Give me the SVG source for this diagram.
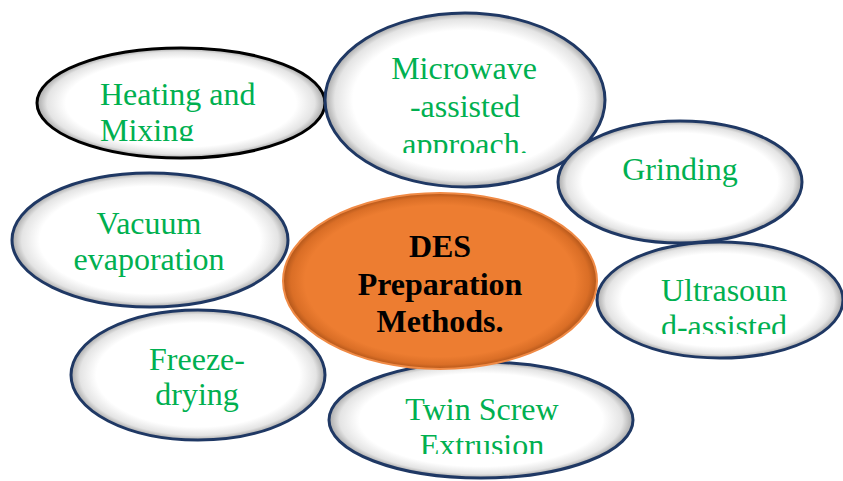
<svg xmlns="http://www.w3.org/2000/svg" width="843" height="481" viewBox="0 0 843 481">
<defs>
<radialGradient id="gw" cx="50%" cy="50%" r="50%">
<stop offset="0" stop-color="#ffffff"/>
<stop offset="0.8" stop-color="#ffffff"/>
<stop offset="0.93" stop-color="#e4e4e4"/>
<stop offset="1" stop-color="#a8a8a8"/>
</radialGradient>
<radialGradient id="go" cx="50%" cy="50%" r="50%">
<stop offset="0" stop-color="#ED7D31"/>
<stop offset="0.86" stop-color="#ED7D31"/>
<stop offset="0.95" stop-color="#DA6E26"/>
<stop offset="1" stop-color="#B2561A"/>
</radialGradient>
<clipPath id="c1"><rect x="0" y="0" width="843" height="141"/></clipPath>
<clipPath id="c2"><rect x="0" y="0" width="843" height="153"/></clipPath>
<clipPath id="c3"><rect x="0" y="0" width="843" height="334"/></clipPath>
<clipPath id="c4"><rect x="0" y="0" width="843" height="412"/></clipPath>
<clipPath id="c5"><rect x="0" y="0" width="843" height="454"/></clipPath>
</defs>
<style>
.n{fill:url(#gw);stroke:#1F3864;stroke-width:3}
.k{fill:url(#gw);stroke:#000;stroke-width:3}
.o{fill:url(#go);stroke:#F08A45;stroke-width:2}
.t{font-family:"Liberation Serif","Times New Roman",serif;font-size:32px;fill:#00B050;text-anchor:middle}
.b{font-family:"Liberation Serif","Times New Roman",serif;font-size:32px;font-weight:bold;fill:#000;text-anchor:middle}
</style>
<g id="connectors"></g>
<g id="heating">
<ellipse class="k" cx="181" cy="103" rx="144" ry="55"/>
<text class="t" style="text-anchor:start" clip-path="url(#c1)"><tspan x="100" y="105">Heating and</tspan><tspan x="100" y="141">Mixing</tspan></text>
</g>
<g id="microwave">
<ellipse class="n" cx="465" cy="100" rx="140" ry="87"/>
<text class="t" clip-path="url(#c2)"><tspan x="464" y="79">Microwave</tspan><tspan x="465" y="117">-assisted</tspan><tspan x="465" y="155">approach.</tspan></text>
</g>
<g id="grinding">
<ellipse class="n" cx="680" cy="182" rx="122" ry="61"/>
<text class="t" x="680" y="180">Grinding</text>
</g>
<g id="ultrasound">
<ellipse class="n" cx="720" cy="300" rx="123" ry="58"/>
<text class="t" clip-path="url(#c3)"><tspan x="724" y="301">Ultrasoun</tspan><tspan x="724" y="337">d-assisted</tspan></text>
</g>
<g id="freeze">
<ellipse class="n" cx="198" cy="375" rx="127" ry="65"/>
<text class="t" clip-path="url(#c4)"><tspan x="197" y="370">Freeze-</tspan><tspan x="197" y="405">drying</tspan></text>
</g>
<g id="vacuum">
<ellipse class="n" cx="150" cy="240" rx="138" ry="67"/>
<text class="t"><tspan x="149" y="234">Vacuum</tspan><tspan x="149" y="270">evaporation</tspan></text>
</g>
<g id="twin">
<ellipse class="n" cx="481" cy="420" rx="152" ry="58"/>
<text class="t" clip-path="url(#c5)"><tspan x="482" y="420">Twin Screw</tspan><tspan x="482" y="456">Extrusion</tspan></text>
</g>
<g id="des">
<ellipse class="o" cx="440" cy="281" rx="157" ry="88"/>
<text class="b"><tspan x="440" y="257">DES</tspan><tspan x="440" y="295">Preparation</tspan><tspan x="440" y="332">Methods.</tspan></text>
</g>
</svg>
